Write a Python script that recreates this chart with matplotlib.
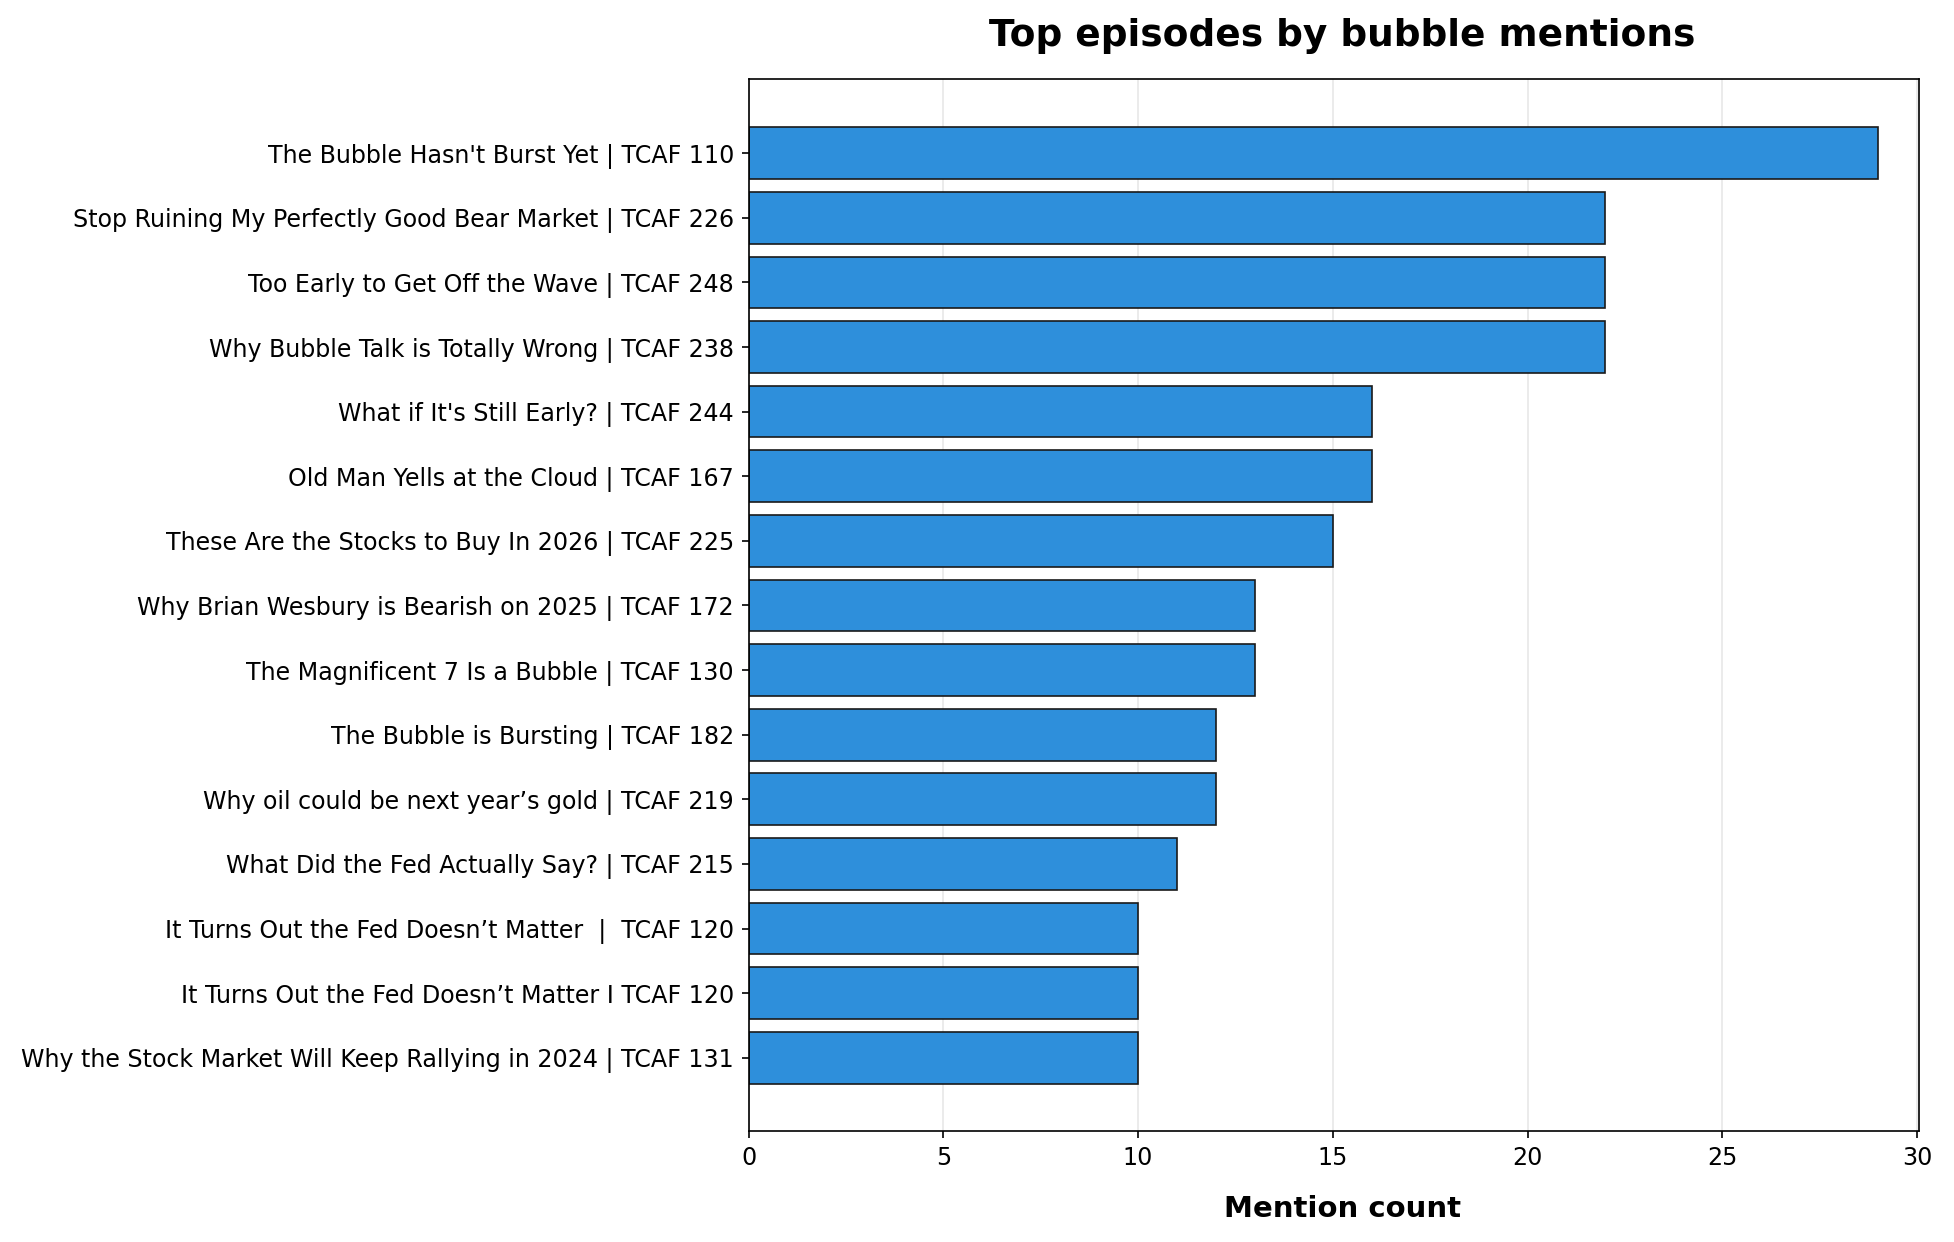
import matplotlib.pyplot as plt

episodes = [
    "The Bubble Hasn't Burst Yet | TCAF 110",
    "Stop Ruining My Perfectly Good Bear Market | TCAF 226",
    "Too Early to Get Off the Wave | TCAF 248",
    "Why Bubble Talk is Totally Wrong | TCAF 238",
    "What if It's Still Early? | TCAF 244",
    "Old Man Yells at the Cloud | TCAF 167",
    "These Are the Stocks to Buy In 2026 | TCAF 225",
    "Why Brian Wesbury is Bearish on 2025 | TCAF 172",
    "The Magnificent 7 Is a Bubble | TCAF 130",
    "The Bubble is Bursting | TCAF 182",
    "Why oil could be next year\u2019s gold | TCAF 219",
    "What Did the Fed Actually Say? | TCAF 215",
    "It Turns Out the Fed Doesn\u2019t Matter  |  TCAF 120",
    "It Turns Out the Fed Doesn\u2019t Matter I TCAF 120",
    "Why the Stock Market Will Keep Rallying in 2024 | TCAF 131",
]
mentions = [29, 22, 22, 22, 16, 16, 15, 13, 13, 12, 12, 11, 10, 10, 10]


def main():
    fig, ax = plt.subplots(figsize=(13.03, 8.28), dpi=150)
    ax.barh(episodes, mentions, height=0.8, color="#2E8FDB",
            edgecolor="#1a1a1a", linewidth=0.8, zorder=2)
    ax.invert_yaxis()
    ax.set_xlim(0, 30.06)
    ax.grid(axis="x", alpha=0.3, zorder=0)
    ax.tick_params(axis="both", labelsize=11.4)
    ax.set_xlabel("Mention count", fontsize=14, fontweight="bold",
                  labelpad=12, x=0.507)
    ax.set_title("Top episodes by bubble mentions", fontsize=18,
                 fontweight="bold", pad=16, x=0.507)
    fig.subplots_adjust(left=0.383, right=0.982, top=0.936, bottom=0.089)
    fig.savefig("out.png", dpi=150)
    plt.close(fig)


if __name__ == "__main__":
    main()
